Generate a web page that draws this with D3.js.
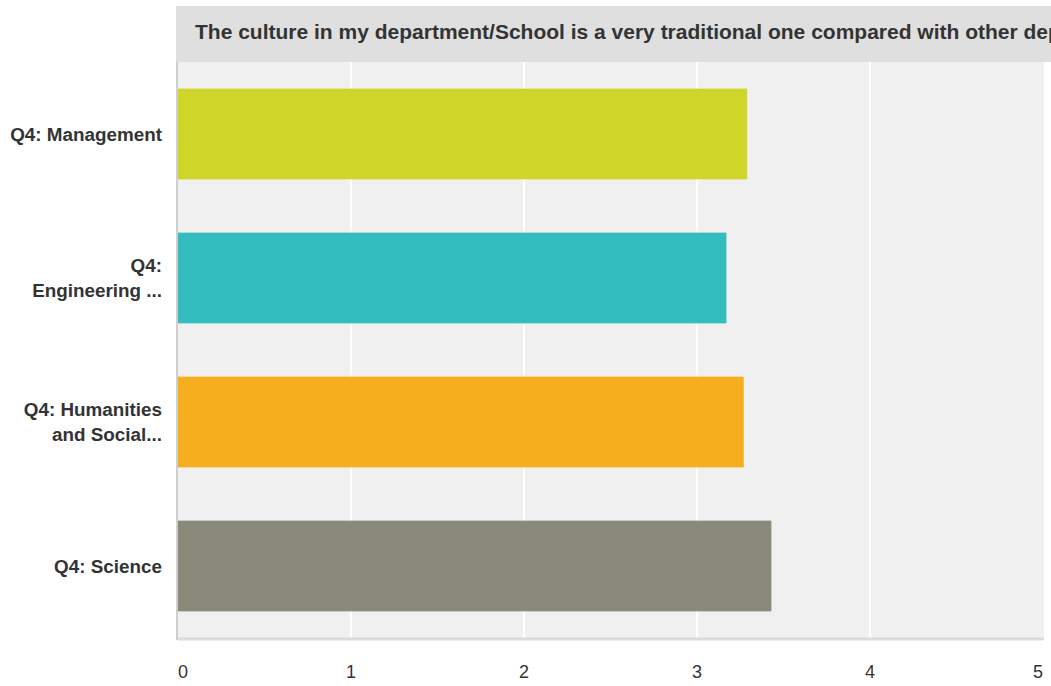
<!DOCTYPE html>
<html>
<head>
<meta charset="utf-8">
<script src="https://cdn.jsdelivr.net/npm/d3@7"></script>
<style>
  body { margin: 0; background: #fff; }
  svg { display: block; font-family: Arial, "Liberation Sans", Helvetica, sans-serif; }
  .cat { font-size: 18.85px; font-weight: bold; fill: #333; }
  .tick-label { font-size: 18px; fill: #333; }
  .title { font-size: 21px; font-weight: bold; fill: #333; }
</style>
</head>
<body>
<svg id="chart"></svg>
<script>
const title = 'The culture in my department/School is a very traditional one compared with other departments/Schools';
const categories = ['Q4: Management', 'Q4: Engineering ...', 'Q4: Humanities and Social...', 'Q4: Science'];
const labelLines = [['Q4: Management'], ['Q4:', 'Engineering ...'], ['Q4: Humanities', 'and Social...'], ['Q4: Science']];
const values = [3.29, 3.17, 3.27, 3.43];
const colors = ['#cfd529', '#33bdbf', '#f7ae1e', '#8a8a7a'];
const ticks = [0, 1, 2, 3, 4, 5];

const W = 1051, H = 686;
const PLOT = { left: 178, right: 1043, top: 62, bottom: 638 };

const $svg = d3.select('#chart').attr('width', W).attr('height', H);

const x = d3.scaleLinear().domain([0, 5]).range([PLOT.left, PLOT.right]);
const y = d3.scaleBand()
	.domain(categories)
	.range([PLOT.top, PLOT.bottom])
	.paddingInner(0.37)
	.paddingOuter(0.185);

// title band (the title runs off the right edge, as in the original)
$svg.append('rect')
	.attr('x', 176).attr('y', 6)
	.attr('width', W - 176).attr('height', PLOT.top - 6)
	.attr('fill', '#dfdfdf');
$svg.append('text')
	.attr('class', 'title')
	.attr('x', 195).attr('y', 39)
	.text(title);

// plot background
$svg.append('rect')
	.attr('x', PLOT.left).attr('y', PLOT.top)
	.attr('width', PLOT.right + 1 - PLOT.left).attr('height', PLOT.bottom - PLOT.top)
	.attr('fill', '#f0f0f0');

// grid
$svg.append('g')
	.selectAll('line')
	.data(ticks.filter(d => d > 0 && d < 5))
	.join('line')
	.attr('x1', d => x(d)).attr('x2', d => x(d))
	.attr('y1', PLOT.top).attr('y2', PLOT.bottom)
	.attr('stroke', '#fff')
	.attr('stroke-width', 2);

// bars
$svg.append('g')
	.selectAll('rect')
	.data(categories)
	.join('rect')
	.attr('x', x(0))
	.attr('y', d => y(d))
	.attr('width', (d, i) => x(values[i]) - x(0))
	.attr('height', y.bandwidth())
	.attr('fill', (d, i) => colors[i]);

// borders
$svg.append('line')
	.attr('x1', PLOT.left - 1).attr('x2', PLOT.left - 1)
	.attr('y1', PLOT.top).attr('y2', PLOT.bottom + 2)
	.attr('stroke', '#cfcfcf').attr('stroke-width', 2);
$svg.append('line')
	.attr('x1', PLOT.left).attr('x2', PLOT.right + 1)
	.attr('y1', PLOT.bottom + 1).attr('y2', PLOT.bottom + 1)
	.attr('stroke', '#dcdcdc').attr('stroke-width', 3);

// x tick labels
$svg.append('g')
	.selectAll('text')
	.data(ticks)
	.join('text')
	.attr('class', 'tick-label')
	.attr('x', d => x(d))
	.attr('y', 678)
	.attr('text-anchor', (d, i) => i === 0 ? 'start' : (i === ticks.length - 1 ? 'end' : 'middle'))
	.text(d => d);

// category labels
const $cat = $svg.append('g')
	.selectAll('text')
	.data(categories)
	.join('text')
	.attr('class', 'cat')
	.attr('text-anchor', 'end')
	.attr('x', 162)
	.attr('y', d => y(d) + y.bandwidth() / 2);

$cat.each(function(d, i) {
	const lines = labelLines[i];
	const lh = 25.5;
	const start = -((lines.length - 1) * lh) / 2;
	d3.select(this).selectAll('tspan')
		.data(lines)
		.join('tspan')
		.attr('x', 162)
		.attr('dy', (l, j) => j === 0 ? start + 6.5 : lh)
		.text(l => l);
});
</script>
</body>
</html>
